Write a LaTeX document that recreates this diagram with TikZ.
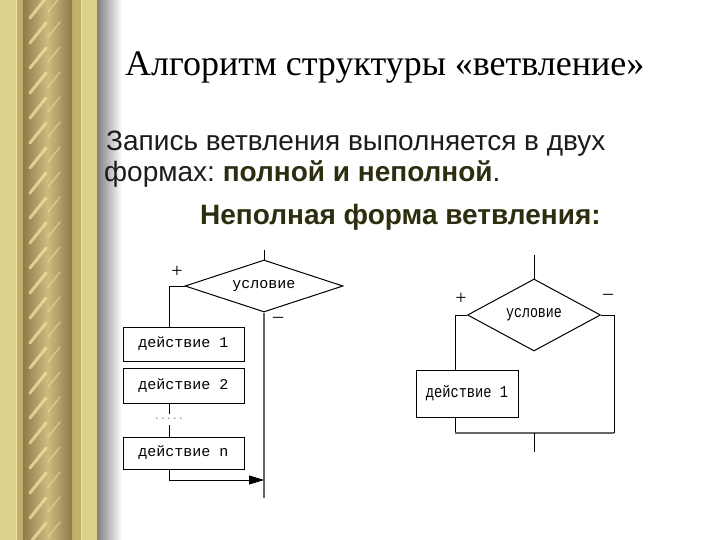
\documentclass[tikz,border=0pt]{standalone}
\usepackage{fontspec}
\setmainfont{Liberation Sans}
\newfontfamily\titlefont{Liberation Serif}
\newfontfamily\codefont{Liberation Mono}
\usetikzlibrary{shapes.geometric,arrows.meta}
\definecolor{goldlight}{HTML}{DDD28C}
\definecolor{goldmid}{HTML}{BFB06A}
\definecolor{ropedark}{HTML}{8C7C4C}
\definecolor{ropelight}{HTML}{CDBB7E}
\definecolor{streak}{HTML}{F2E2A6}
\definecolor{boldtxt}{HTML}{2D2D0F}
\definecolor{maintxt}{HTML}{1C1C1C}
\frenchspacing
\tikzset{
  actbox/.style={draw=black, line width=1pt, inner sep=0pt, font=\codefont\fontsize{15}{17}\selectfont},
  cond/.style={diamond, draw=black, line width=1pt, inner sep=0pt, font=\codefont\fontsize{15}{17}\selectfont},
  flow/.style={draw=black, line width=0.9pt},
  mainflow/.style={draw=black!60, line width=2pt},
  sign/.style={font=\titlefont\fontsize{20}{20}\selectfont, inner sep=0pt}
}
\begin{document}
\begin{tikzpicture}[x=1pt,y=-1pt]
\useasboundingbox (0,0) rectangle (720,540);
\fill[white] (0,0) rectangle (720,540);
% decorative border
\fill[goldlight] (0,0) rectangle (97,540);
\fill[goldmid] (16,0) rectangle (23,540);
\fill[goldmid] (72,0) rectangle (82,540);
\draw[streak, line width=0.8pt] (16,0) -- (16,540);
\draw[streak, line width=0.8pt] (81,0) -- (81,540);
\shade[left color=ropedark, right color=ropedark, middle color=ropelight] (23,0) rectangle (72,540);
\begin{scope}
  \clip (25,0) rectangle (70,540);
  \foreach \k in {0,...,22} {
    \draw[streak, line width=3pt, opacity=0.75, line cap=round] (30,{\k*25+18}) -- (46,{\k*25-2});
    \draw[streak, line width=1.5pt, opacity=0.5, line cap=round] (48,{\k*25+12}) -- (60,{\k*25-3});
  }
\end{scope}
\shade[left color=black!50, right color=white] (97,0) rectangle (122,540);
% texts
\node[anchor=base west, inner sep=0pt, font=\titlefont\fontsize{36}{40}\selectfont] (title) at (125,76) {Алгоритм структуры «ветвление»};
\node[anchor=base west, inner sep=0pt, text=maintxt, font=\fontsize{28}{32}\selectfont] (line1) at (106,151) {Запись ветвления выполняется в двух};
\node[anchor=base west, inner sep=0pt, text=maintxt, font=\fontsize{28}{32}\selectfont] (line2) at (104,182) {формах: \textcolor{boldtxt}{\bfseries полной и неполной}.};
\node[anchor=base west, inner sep=0pt, text=boldtxt, font=\bfseries\fontsize{28}{32}\selectfont] (line3) at (200,225) {Неполная форма ветвления:};
% left flowchart: full form
\coordinate (Ltop) at (264,250);
\node[cond, aspect=3.04, minimum width=158pt, minimum height=52pt] (Lcond) at (264,286) {условие};
\node[actbox, minimum width=121pt, minimum height=34pt] (L1) at (183.5,344) {действие 1};
\node[actbox, line width=0.8pt, minimum width=121pt, minimum height=35pt] (L2) at (183.5,385.5) {действие 2};
\node[font=\codefont\fontsize{10}{10}\selectfont, text=black!50, inner sep=0pt] (Ldots) at (169,419) {.....};
\node[actbox, line width=0.8pt, minimum width=121pt, minimum height=32pt] (Ln) at (183.5,453) {действие n};
\coordinate (Lend) at (264,498);
\coordinate (Lplus) at (169,286);
\coordinate (Lret) at (169,480);
\coordinate (Ljoin) at (264,480);
\draw[flow] (Ltop) -- (Lcond.north);
\draw[flow] (Lcond.west) -- (Lplus) -- (Lplus |- L1.north);
\draw[flow] (Lplus |- L2.south) -- (169,414);
\draw[flow] (169,425) -- (Lplus |- Ln.north);
\draw[mainflow] (Lcond.south) -- (Lend);
\draw[flow, -{Triangle[length=15pt,width=9pt]}] (Lplus |- Ln.south) -- (Lret) -- (Ljoin);
\node[sign] (Lp) at (177,272) {+};
\node[sign] (Lm) at (278,320) {–};
% right flowchart: partial form
\coordinate (Rtop) at (534,255);
\node[cond, aspect=1.85, minimum width=133pt, minimum height=72pt, font=\codefont\fontsize{14}{16}\selectfont] (Rcond) at (534,315) {\scalebox{0.95}[1.2]{условие}};
\node[actbox, minimum width=102pt, minimum height=47pt, font=\codefont\fontsize{14}{16}\selectfont] (R1) at (467,393.5) {\scalebox{0.98}[1.2]{действие 1}};
\coordinate (Rleft) at (455,315);
\coordinate (Rright) at (614,315);
\coordinate (RbotL) at (455,433);
\coordinate (RbotR) at (614,433);
\coordinate (Rmid) at (534,433);
\coordinate (Rend) at (534,452);
\draw[flow] (Rtop) -- (Rcond.north);
\draw[flow] (Rcond.west) -- (Rleft) -- (Rleft |- R1.north);
\draw[flow] (Rcond.east) -- (Rright) -- (RbotR);
\draw[flow] (Rleft |- R1.south) -- (RbotL);
\draw[mainflow, line width=2.5pt] (RbotL) -- (RbotR);
\draw[flow] (Rmid) -- (Rend);
\node[sign] (Rp) at (461,299) {+};
\node[sign] (Rm) at (608,297) {–};
\end{tikzpicture}
\end{document}
